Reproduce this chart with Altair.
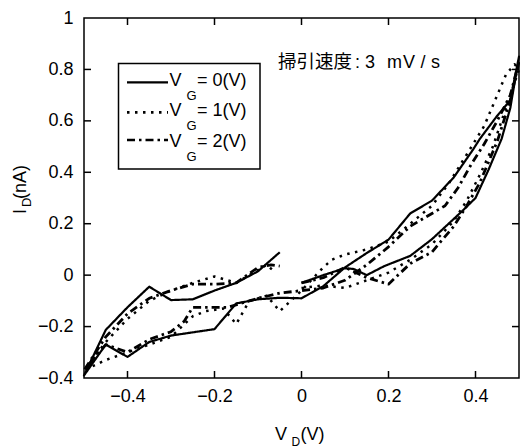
import altair as alt
import pandas as pd

# ---------------- data ----------------
series_names = ["VG=0", "VG=1", "VG=2"]

# V_G = 0 V (solid): sweep 0 -> +0.5 -> -0.5 -> -0.05
vd0 = [0.0, 0.05, 0.1, 0.12, 0.15, 0.19, 0.25, 0.3, 0.37, 0.4, 0.43, 0.46, 0.48, 0.5,
       0.48, 0.45, 0.41, 0.395, 0.35, 0.3, 0.25, 0.2, 0.15, 0.1, 0.05, 0.0,
       -0.05, -0.1, -0.15, -0.18, -0.2, -0.3, -0.35, -0.4, -0.45, -0.5,
       -0.45, -0.4, -0.35, -0.3, -0.25, -0.2, -0.15, -0.1, -0.05]
id0 = [-0.03, 0.0, 0.027, 0.024, 0.0, 0.035, 0.075, 0.14, 0.25, 0.30, 0.41, 0.53, 0.65, 0.85,
       0.68, 0.62, 0.53, 0.49, 0.38, 0.29, 0.24, 0.138, 0.086, 0.03, -0.043, -0.09,
       -0.088, -0.094, -0.11, -0.17, -0.21, -0.235, -0.26, -0.318, -0.27, -0.39,
       -0.213, -0.125, -0.045, -0.097, -0.094, -0.06, -0.03, 0.015, 0.089]

# V_G = 1 V (dotted)
vd1 = [0.0, 0.05, 0.1, 0.15, 0.2, 0.25, 0.3, 0.35, 0.38, 0.41, 0.44, 0.47, 0.5,
       0.49, 0.47, 0.44, 0.42, 0.38, 0.34, 0.3, 0.25, 0.2, 0.15, 0.1, 0.07, 0.05, 0.0,
       -0.05, -0.08, -0.12, -0.15, -0.18, -0.22, -0.25, -0.3, -0.35, -0.4, -0.45, -0.5,
       -0.45, -0.4, -0.35, -0.3, -0.25, -0.2, -0.15, -0.1, -0.08, -0.06]
id1 = [-0.05, -0.04, -0.05, -0.02, 0.01, 0.06, 0.12, 0.21, 0.29, 0.39, 0.50, 0.65, 0.80,
       0.82, 0.78, 0.66, 0.58, 0.47, 0.36, 0.27, 0.20, 0.13, 0.10, 0.08, 0.06, 0.03, -0.06,
       -0.14, -0.08, -0.10, -0.19, -0.13, -0.14, -0.16, -0.24, -0.27, -0.30, -0.33, -0.37,
       -0.26, -0.17, -0.10, -0.06, -0.03, -0.005, -0.03, 0.02, 0.04, 0.01]

# V_G = 2 V (dash-dot)
vd2 = [0.0, 0.05, 0.1, 0.15, 0.2, 0.25, 0.3, 0.35, 0.38, 0.41, 0.45, 0.48, 0.5,
       0.48, 0.45, 0.42, 0.39, 0.36, 0.33, 0.3, 0.25, 0.2, 0.15, 0.1, 0.05, 0.0,
       -0.05, -0.1, -0.17, -0.25, -0.27, -0.3, -0.35, -0.4, -0.45, -0.5,
       -0.45, -0.4, -0.35, -0.3, -0.25, -0.2, -0.15, -0.1, -0.07, -0.05]
id2 = [-0.03, -0.01, 0.03, -0.01, -0.035, 0.045, 0.09, 0.19, 0.27, 0.36, 0.52, 0.68, 0.83,
       0.70, 0.60, 0.51, 0.43, 0.34, 0.27, 0.24, 0.19, 0.11, 0.04, -0.02, -0.05, -0.06,
       -0.07, -0.09, -0.125, -0.125, -0.18, -0.22, -0.25, -0.30, -0.27, -0.37,
       -0.24, -0.15, -0.09, -0.06, -0.035, -0.035, -0.03, 0.03, 0.04, 0.035]

x_ticks = [-0.4, -0.2, 0, 0.2, 0.4]
y_ticks = [-0.4, -0.2, 0, 0.2, 0.4, 0.6, 0.8, 1]
y_inner_ticks = [-0.2, 0, 0.2, 0.4, 0.6, 0.8]

legend_labels = ["= 0(V)", "= 1(V)", "= 2(V)"]
note_parts = ["掃引速度", ":", "3", "m", "V", "/", "s"]

# ---------------- build table ----------------
rows = []
for name, xs_, ys_ in zip(series_names, [vd0, vd1, vd2], [id0, id1, id2]):
    for i, (a, b) in enumerate(zip(xs_, ys_)):
        rows.append({"s": name, "i": i, "vd": a, "id": b})
df = pd.DataFrame(rows)

W, H = 435, 360
OX, OY = 84, 18  # plot origin in window pixels
FONT = "Liberation Sans, Arial, sans-serif"

xsc = alt.Scale(domain=[-0.5, 0.5], nice=False, zero=False)
ysc = alt.Scale(domain=[-0.4, 1.0], nice=False, zero=False)

x_axis = alt.Axis(values=x_ticks, format="~g", title=None, ticks=False, tickSize=0,
                  domain=False, grid=False, labelFontSize=18, labelFont=FONT,
                  labelColor="black", labelPadding=9)
y_axis = alt.Axis(values=y_ticks, format="~g", title=None, ticks=False, tickSize=0,
                  domain=False, grid=False, labelFontSize=18, labelFont=FONT,
                  labelColor="black", labelPadding=11)

dash_scale = alt.Scale(domain=series_names, range=[[1, 0], [2.5, 5.5], [8, 4, 2.5, 4]])
width_scale = alt.Scale(domain=series_names, range=[2.2, 2.8, 2.5])

lines = alt.Chart(df).mark_line(color="black", strokeCap="butt", strokeJoin="round").encode(
    x=alt.X("vd:Q", scale=xsc, axis=x_axis),
    y=alt.Y("id:Q", scale=ysc, axis=y_axis),
    strokeDash=alt.StrokeDash("s:N", scale=dash_scale, legend=None),
    strokeWidth=alt.StrokeWidth("s:N", scale=width_scale, legend=None),
    detail="s:N",
    order="i:Q",
)

# inward ticks on all four sides
xt_df = pd.DataFrame({"vd": x_ticks})
yt_df = pd.DataFrame({"id": y_inner_ticks})
TL = 7
tick_bottom = alt.Chart(xt_df).mark_rule(color="black", strokeWidth=1.5).encode(
    x=alt.X("vd:Q", scale=xsc, axis=x_axis), y=alt.value(H), y2=alt.value(H - TL))
tick_top = alt.Chart(xt_df).mark_rule(color="black", strokeWidth=1.5).encode(
    x=alt.X("vd:Q", scale=xsc, axis=x_axis), y=alt.value(0), y2=alt.value(TL))
tick_left = alt.Chart(yt_df).mark_rule(color="black", strokeWidth=1.5).encode(
    y=alt.Y("id:Q", scale=ysc, axis=y_axis), x=alt.value(0), x2=alt.value(TL))
tick_right = alt.Chart(yt_df).mark_rule(color="black", strokeWidth=1.5).encode(
    y=alt.Y("id:Q", scale=ysc, axis=y_axis), x=alt.value(W), x2=alt.value(W - TL))

one = alt.Data(values=[{}])


def txt(s, x, y, size=18, font=FONT, angle=None, align="left", baseline="alphabetic"):
    kw = dict(fontSize=size, font=font, color="black", align=align, baseline=baseline)
    if angle is not None:
        kw["angle"] = angle
    return alt.Chart(one).mark_text(**kw).encode(
        x=alt.value(x - OX), y=alt.value(y - OY), text=alt.value(s))


# legend box
legend_box = alt.Chart(one).mark_rect(fill="white", stroke="black", strokeWidth=1.5).encode(
    x=alt.value(118.5 - OX), x2=alt.value(260 - OX), y=alt.value(63.5 - OY), y2=alt.value(169 - OY))

legend_layers = [legend_box]
dashes = [[1, 0], [2.5, 5.5], [8, 4, 2.5, 4]]
widths = [2.2, 2.8, 2.5]
line_y = [82.3, 112.3, 140.0]
base_y = [86, 116, 147]
for k in range(3):
    legend_layers.append(
        alt.Chart(one).mark_rule(color="black", strokeDash=dashes[k], strokeWidth=widths[k],
                                 strokeCap="butt").encode(
            x=alt.value(127 - OX), x2=alt.value(168 - OX),
            y=alt.value(line_y[k] - OY)))
    legend_layers.append(txt("V", 169.5, base_y[k]))
    legend_layers.append(txt("G", 186.5, base_y[k] + 13.5, size=13))
    legend_layers.append(txt(legend_labels[k], 197, base_y[k]))

# annotation, placed piece by piece to match the wide spacing of the original
note_x = [278, 355, 365, 387, 403, 420.5, 431]
note_sizes = [18.5, 18, 18, 18, 18, 18, 18]
note_fonts = ["Noto Sans CJK JP"] + [FONT] * 6
note = [txt(p, x, 68, size=sz, font=f) for p, x, sz, f in zip(note_parts, note_x, note_sizes, note_fonts)]

# axis titles with subscripts
xtitle = [txt("V", 275, 440), txt("D", 291.5, 446, size=12), txt("(V)", 300.5, 440)]
ytitle = [txt("I", 25.5, 214, angle=270), txt("D", 30.5, 207, size=13, angle=270),
          txt("(nA)", 25.5, 199, angle=270)]

chart = alt.layer(
    lines, tick_bottom, tick_top, tick_left, tick_right,
    *legend_layers, *note, *xtitle, *ytitle
).properties(
    width=W, height=H,
    padding={"left": OX, "top": OY, "right": 1, "bottom": 70},
    autosize=alt.AutoSizeParams(type="none"),
    background="white",
).configure_view(stroke="black", strokeWidth=1.5)

chart.save("out.html", embed_options={"renderer": "svg", "actions": False})
